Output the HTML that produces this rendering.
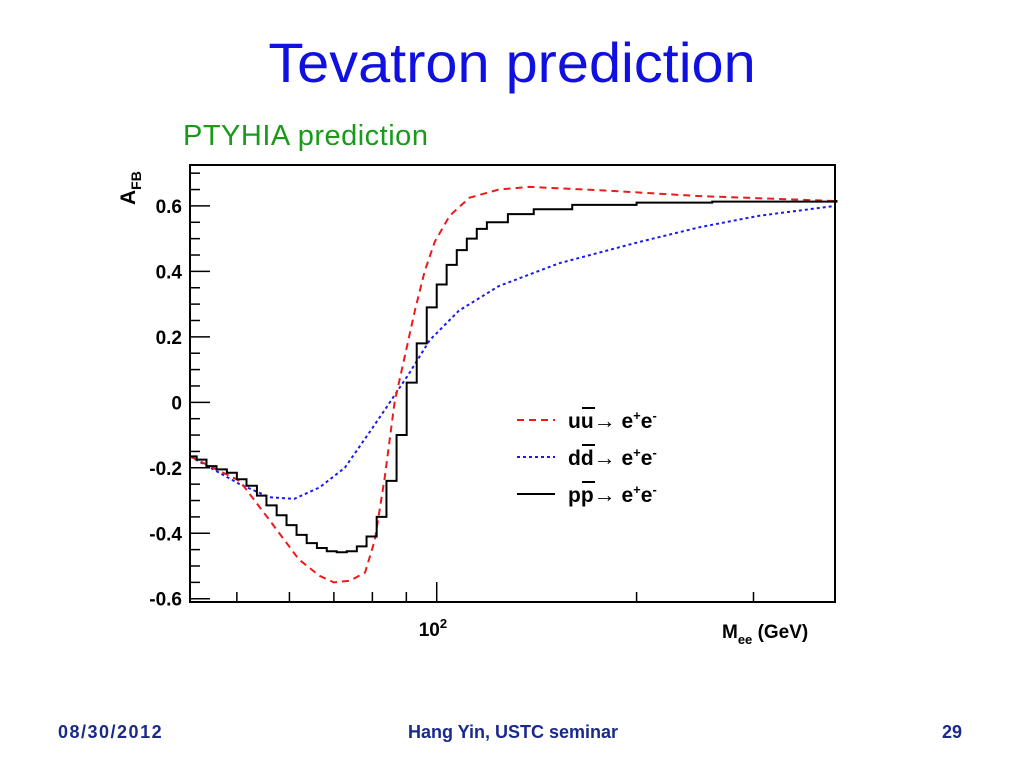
<!DOCTYPE html>
<html><head><meta charset="utf-8"><style>
body{margin:0;width:1024px;height:768px;background:#fff;overflow:hidden;position:relative;font-family:"Liberation Sans",sans-serif}
.t{position:absolute;white-space:nowrap}
</style></head><body>
<div class="t" style="left:0;width:1024px;text-align:center;top:30px;font-size:56px;color:#1010e0;transform:scaleX(1.03)">Tevatron prediction</div>
<div class="t" style="left:183px;top:120px;font-size:29px;color:#1a9a1a;letter-spacing:0.5px">PTYHIA prediction</div>
<div class="t" style="left:58px;top:722px;font-size:18px;font-weight:bold;color:#1a2a8a;letter-spacing:1.5px">08/30/2012</div>
<div class="t" style="left:408px;top:722px;font-size:18px;font-weight:bold;color:#1a2a8a;letter-spacing:0px">Hang Yin, USTC seminar</div>
<div class="t" style="left:942px;top:722px;font-size:18px;font-weight:bold;color:#1a2a8a">29</div>
<svg id="chart" width="1024" height="768" style="position:absolute;left:0;top:0" font-family="Liberation Sans, sans-serif"></svg>
<script>
const yTicks=[-0.6,-0.4,-0.2,0,0.2,0.4,0.6];
const yTickLabels=["-0.6","-0.4","-0.2","0","0.2","0.4","0.6"];
const xMinorTicks=[50,60,70,80,90,200,300];
const ppMass=[42.5,43.5,45.0,46.6,48.3,50.0,51.7,53.6,55.4,57.4,59.4,61.5,63.7,66.0,68.3,70.7,73.2,75.8,78.4,81.2,84.0,87.0,90.1,93.3,96.6,100,103.5,107.2,111,114.9,119,128,140,160,200,260,400];
const ppAfb=[-0.165,-0.175,-0.195,-0.205,-0.215,-0.235,-0.255,-0.285,-0.315,-0.345,-0.375,-0.405,-0.43,-0.445,-0.455,-0.458,-0.455,-0.44,-0.41,-0.35,-0.24,-0.1,0.06,0.18,0.29,0.36,0.42,0.465,0.5,0.53,0.55,0.575,0.59,0.603,0.61,0.613,0.615];
const uuMass=[42.5,50.5,56,62,66.6,70,74,78,80.7,83.5,86.4,89.5,92.7,95.9,99.3,104.6,112,124,138,176,249,398];
const uuAfb=[-0.165,-0.24,-0.36,-0.48,-0.53,-0.55,-0.545,-0.52,-0.42,-0.23,0.0,0.14,0.28,0.4,0.49,0.57,0.625,0.65,0.658,0.648,0.63,0.615];
const ddMass=[42.5,50.5,56,61,66.6,72.7,79.3,85,91,97.6,108,124,153,202,249,306,398];
const ddAfb=[-0.165,-0.25,-0.29,-0.295,-0.26,-0.2,-0.09,0.0,0.09,0.19,0.28,0.355,0.425,0.49,0.535,0.57,0.6];

const svg=document.getElementById('chart');const NS='http://www.w3.org/2000/svg';
const L=190,R=835,T=165,B=602,xMin=42.5,xMax=398,yMin=-0.61,yMax=0.725;
const X=m=>L+(Math.log10(m)-Math.log10(xMin))/(Math.log10(xMax)-Math.log10(xMin))*(R-L);
const Y=v=>B-(v-yMin)/(yMax-yMin)*(B-T);
function mk(tag,attrs,parent){const e=document.createElementNS(NS,tag);for(const k in attrs)e.setAttribute(k,attrs[k]);(parent||svg).appendChild(e);return e;}
const frame=mk('rect',{x:L,y:T,width:R-L,height:B-T,fill:'none',stroke:'#000','stroke-width':2});


for(let k=-12;k<=14;k++){const v=k*0.05;const major=(k%4===0);const len=major?20:10;
 const tk=mk('line',{x1:L,x2:L+len,y1:Y(v),y2:Y(v),stroke:'#000','stroke-width':1.5});
 
 }
yTicks.forEach((v,i)=>{const t=mk('text',{x:L-8,y:Y(v)+7,'text-anchor':'end','font-size':19,'font-weight':'bold'});t.textContent=yTickLabels[i];
 
 });
xMinorTicks.forEach(m=>{const tk=mk('line',{x1:X(m),x2:X(m),y1:B,y2:B-10,stroke:'#000','stroke-width':1.5});
 
 });
const mj=mk('line',{x1:X(100),x2:X(100),y1:B,y2:B-20,stroke:'#000','stroke-width':1.5});


const xl=mk('text',{x:X(100)-18,y:636,'font-size':19,'font-weight':'bold'});xl.innerHTML='10<tspan dy="-8" font-size="13">2</tspan>';


const xt=mk('text',{x:722,y:638,'font-size':19,'font-weight':'bold'});xt.innerHTML='M<tspan dy="6" font-size="13">ee</tspan><tspan dy="-6"> (GeV)</tspan>';


const yt=mk('text',{x:0,y:0,'font-size':21,'font-weight':'bold',transform:'translate(135,205) rotate(-90)'});yt.innerHTML='A<tspan dy="6" font-size="14">FB</tspan>';


function line(ms,vs,step){let d='';ms.forEach((m,i)=>{const x=X(m),y=Y(vs[i]);if(i==0)d='M'+x+' '+y;else if(step)d+=' H'+x+' V'+y;else d+=' L'+x+' '+y;});if(step)d+=' H'+R;return d;}
const dd=mk('path',{d:line(ddMass,ddAfb,false),fill:'none',stroke:'#1a1aee','stroke-width':2,'stroke-dasharray':'3 3'});


const uu=mk('path',{d:line(uuMass,uuAfb,false),fill:'none',stroke:'#ee1a1a','stroke-width':2,'stroke-dasharray':'7 5'});


const pp=mk('path',{d:line(ppMass,ppAfb,true),fill:'none',stroke:'#000','stroke-width':2});


const leg=[['#ee1a1a','7 5','u','u'],['#1a1aee','3 3','d','d'],['#000','','p','p']];
leg.forEach((l,i)=>{const y=420+i*37;const g=mk('g',{});
 
 
 mk('line',{x1:517,x2:555,y1:y,y2:y,stroke:l[0],'stroke-width':2,'stroke-dasharray':l[1]},g);
 const t=mk('text',{x:568,y:y+8,'font-size':21,'font-weight':'bold'},g);
 t.innerHTML=l[2]+l[3]+'<tspan font-weight="normal" font-size="22">\u2192</tspan> e<tspan dy="-8" font-size="13">+</tspan><tspan dy="8">e</tspan><tspan dy="-8" font-size="13">-</tspan>';
 mk('line',{x1:582,x2:595,y1:y-12,y2:y-12,stroke:'#000','stroke-width':2},g);});
</script>
</body></html>
